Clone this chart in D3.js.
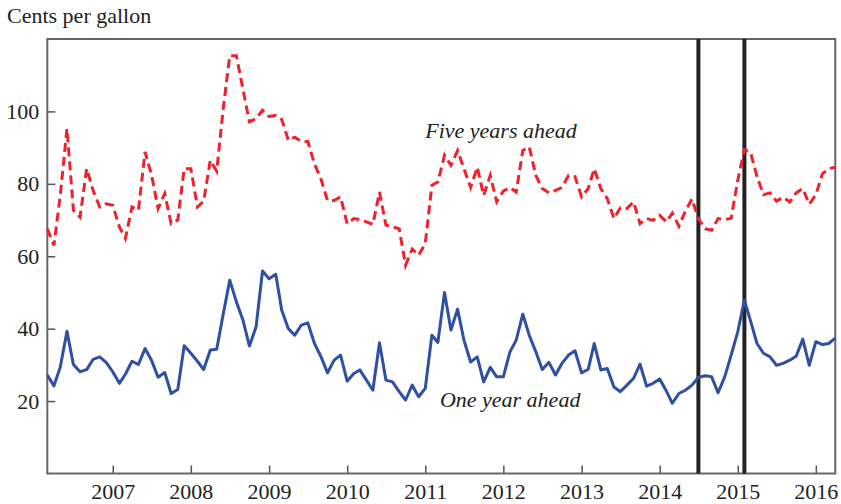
<!DOCTYPE html>
<html>
<head>
<meta charset="utf-8">
<script src="https://cdn.jsdelivr.net/npm/d3@7"></script>
<style>
  body { margin: 0; background: #fff; }
  text { font-family: "Liberation Serif", "Times New Roman", serif; fill: #222; }
</style>
</head>
<body>
<div id="container"></div>
<script>
// monthly observations, first month is March 2006
const startMonth = "2006-03";

const fiveYear = [
  67.6, 63.0, 77.0, 95.2, 72.7, 70.8, 84.2, 78.2, 73.6, 74.5,
  74.1, 68.1, 64.9, 73.6, 72.7, 88.8, 82.5, 73.2, 77.3, 69.0,
  70.0, 84.2, 84.2, 73.6, 75.2, 86.5, 83.5, 101.0, 115.4, 115.4,
  106.0, 97.1, 98.0, 100.3, 98.6, 98.9, 97.8, 92.0, 92.9, 91.7,
  91.7, 85.5, 81.2, 75.4, 75.4, 76.4, 69.0, 70.4, 70.1, 69.5,
  68.8, 77.7, 68.6, 68.1, 67.6, 57.5, 62.0, 60.3, 63.5, 79.6,
  80.5, 87.9, 85.1, 89.2, 84.2, 79.0, 84.6, 76.8, 82.3, 75.0,
  78.0, 79.0, 77.7, 89.2, 90.2, 82.3, 78.7, 77.5, 78.2, 79.0,
  82.3, 82.0, 76.4, 78.7, 84.2, 78.7, 75.9, 70.4, 73.4, 73.2,
  75.0, 69.0, 70.4, 69.9, 71.3, 69.5, 71.9, 68.3, 72.5, 75.8,
  70.4, 67.6, 67.2, 70.4, 70.1, 70.5, 81.0, 89.4, 88.8, 82.0,
  77.0, 77.5, 75.2, 76.3, 75.0, 77.5, 78.7, 74.4, 77.0, 82.8,
  84.2, 84.6
];

const oneYear = [
  27.2, 24.2, 29.5, 39.3, 30.1, 28.1, 28.7, 31.5, 32.2, 30.7,
  28.1, 24.9, 27.4, 31.0, 30.1, 34.5, 31.3, 26.6, 27.9, 22.1,
  23.2, 35.3, 33.2, 31.0, 28.7, 34.1, 34.3, 44.2, 53.4, 47.4,
  42.3, 35.2, 40.5, 55.9, 53.8, 55.0, 45.1, 40.0, 38.2, 41.0,
  41.6, 35.9, 32.2, 27.8, 31.3, 32.7, 25.5, 27.6, 28.6, 25.8,
  23.0, 36.1, 25.8, 25.3, 22.6, 20.3, 24.4, 21.2, 23.5, 38.2,
  36.2, 50.0, 39.6, 45.4, 36.8, 30.8, 32.2, 25.3, 29.3, 26.7,
  26.7, 33.6, 36.8, 44.0, 38.2, 33.6, 28.7, 30.7, 27.2, 30.4,
  32.7, 33.9, 27.8, 28.8, 35.9, 28.6, 29.0, 23.9, 22.6, 24.4,
  26.3, 30.2, 24.1, 24.9, 26.1, 22.8, 19.4, 22.1, 23.0, 24.4,
  26.5, 27.0, 26.7, 22.3, 26.7, 32.7, 39.1, 47.9, 42.3, 35.9,
  33.2, 32.2, 29.9, 30.4, 31.3, 32.4, 37.1, 29.9, 36.4, 35.6,
  35.9, 37.4
];

const eventMonths = ["2014-07", "2015-02"];
const yTicks = [20, 40, 60, 80, 100];

const parseMonth = d3.timeParse("%Y-%m");
const start = parseMonth(startMonth);
const dates = oneYear.map((d, i) => d3.timeMonth.offset(start, i));

const w = 841, h = 504;
const margin = {top: 39, left: 47.3, bottom: 30.5, right: 5.7};

const svg = d3.select("#container").append("svg").attr("width", w).attr("height", h);

const xScale = d3.scaleTime()
  .domain([dates[0], dates[dates.length - 1]])
  .range([margin.left, w - margin.right]);

const yScale = d3.scaleLinear()
  .domain([0, 120])
  .range([h - margin.bottom, margin.top]);

// axes, ticks point inwards
const xAxis = d3.axisBottom(xScale)
  .ticks(d3.timeYear.every(1))
  .tickFormat(d3.timeFormat("%Y"))
  .tickSize(-8)
  .tickPadding(10);
const yAxis = d3.axisLeft(yScale)
  .tickValues(yTicks)
  .tickSize(-8)
  .tickPadding(8);

const xAxisGroup = svg.append("g").attr("transform", `translate(0, ${h - margin.bottom})`).call(xAxis);
const yAxisGroup = svg.append("g").attr("transform", `translate(${margin.left}, 0)`).call(yAxis);
[xAxisGroup, yAxisGroup].forEach(g => {
  g.select(".domain").remove();
  g.selectAll("line").attr("stroke", "#555").attr("stroke-width", 1.5);
  g.selectAll("text").style("font-size", "22px").attr("fill", "#222")
    .style("font-family", "'Liberation Serif', serif");
});

// frame
svg.append("rect")
  .attr("x", margin.left).attr("y", margin.top)
  .attr("width", w - margin.left - margin.right)
  .attr("height", h - margin.top - margin.bottom)
  .attr("fill", "none").attr("stroke", "#666").attr("stroke-width", 2);

// event lines
svg.selectAll(".event")
  .data(eventMonths)
  .enter()
  .append("line")
    .attr("x1", d => xScale(parseMonth(d)))
    .attr("x2", d => xScale(parseMonth(d)))
    .attr("y1", margin.top)
    .attr("y2", h - margin.bottom)
    .attr("stroke", "#222")
    .attr("stroke-width", 4);

const line = d3.line()
  .x((d, i) => xScale(dates[i]))
  .y(d => yScale(d));

svg.append("path")
  .datum(fiveYear)
  .attr("d", line)
  .attr("fill", "none")
  .attr("stroke", "#f0212b")
  .attr("stroke-width", 3)
  .attr("stroke-dasharray", "9,5");

svg.append("path")
  .datum(oneYear)
  .attr("d", line)
  .attr("fill", "none")
  .attr("stroke", "#2f4fa2")
  .attr("stroke-width", 3)
  .attr("stroke-linejoin", "round");

// labels
svg.append("text")
  .attr("x", 7).attr("y", 23)
  .style("font-size", "22px")
  .text("Cents per gallon");

svg.append("text")
  .attr("x", xScale(parseMonth("2011-01")))
  .attr("y", yScale(92.6))
  .style("font-size", "22px").style("font-style", "italic")
  .text("Five years ahead");

svg.append("text")
  .attr("x", xScale(parseMonth("2011-03")) + 2)
  .attr("y", yScale(18.3))
  .style("font-size", "22px").style("font-style", "italic")
  .text("One year ahead");
</script>
</body>
</html>
